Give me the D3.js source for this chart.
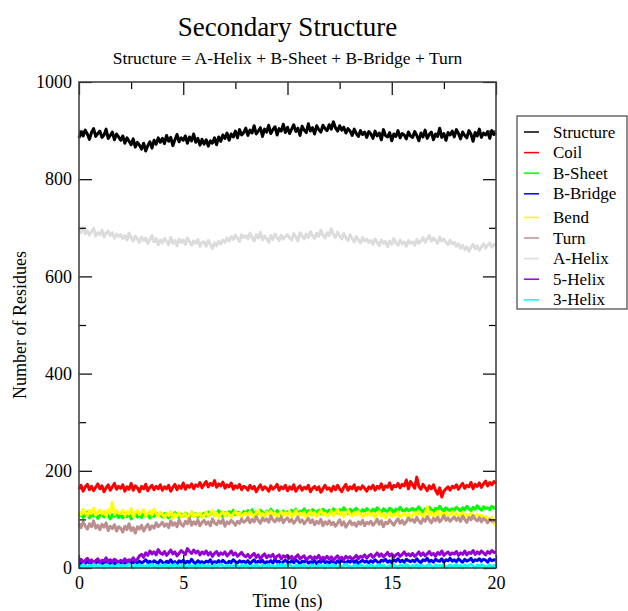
<!DOCTYPE html>
<html>
<head>
<meta charset="utf-8">
<script src="https://cdn.jsdelivr.net/npm/d3@7"></script>
<style>
  body { margin: 0; background: #fff; }
  text { font-family: "Liberation Serif", "Times New Roman", serif; fill: #000; }
</style>
</head>
<body>
<div id="chart"></div>
<script>
// time axis: one sample every 0.1 ns, 0..20 ns
const timeStep = 0.1;

const seriesNames = ["Structure", "Coil", "B-Sheet", "B-Bridge", "Bend", "Turn", "A-Helix", "5-Helix", "3-Helix"];
const seriesColors = ["#000000", "#ff0000", "#00ff00", "#0000ff", "#ffff00", "#bc8f8f", "#dcdcdc", "#9400d3", "#00ffff"];

const structure = [
  885,897,889,901,893,882,896,904,888,894,899,886,891,903,884,890,897,881,893,887,
  880,889,874,885,878,871,883,866,876,870,862,874,858,869,877,864,880,872,885,876,
  884,873,890,878,886,869,881,892,877,885,880,889,874,887,879,893,876,884,870,882,
  872,881,868,879,874,885,871,887,878,891,884,895,880,893,887,899,885,902,891,896,
  905,890,901,895,910,893,899,906,888,903,897,911,894,902,908,891,904,899,913,896,
  907,894,903,912,898,905,890,909,901,896,914,899,906,893,910,902,897,911,904,900,
  912,903,918,906,899,910,901,907,895,904,899,890,903,894,888,900,892,897,886,898,
  893,884,899,889,895,881,902,890,887,896,879,893,888,900,885,894,891,883,897,889,
  886,898,890,879,895,887,901,884,892,897,881,893,888,905,886,894,880,896,891,899,
  887,902,894,883,897,890,885,900,893,878,896,889,903,886,895,891,898,884,900,892,
  895];

const coil = [
  162,170,158,167,172,161,168,159,166,173,163,169,157,165,171,160,167,174,162,168,
  164,171,158,167,162,174,160,169,165,157,168,163,172,159,166,170,161,168,163,171,
  160,167,163,170,158,166,172,161,169,164,175,162,170,166,173,163,171,168,176,165,
  172,178,167,174,170,180,166,173,169,177,164,171,167,175,162,169,165,172,161,168,
  166,160,170,163,168,157,165,171,161,167,164,158,169,162,166,172,160,167,163,170,
  159,167,162,171,158,165,169,160,166,163,170,157,164,168,161,167,156,163,170,162,
  165,158,168,161,170,163,157,166,172,160,167,163,171,159,166,162,169,164,158,167,
  163,170,160,168,164,173,161,169,166,175,162,170,167,174,165,172,169,181,163,178,
  171,164,187,168,162,172,166,159,169,163,171,160,152,165,146,158,163,167,160,168,
  165,171,162,169,174,164,170,167,176,163,172,168,175,166,173,179,169,176,171,178,
  174];

const bSheet = [
  106,112,104,109,115,103,110,107,113,102,108,111,105,114,107,101,110,106,112,104,
  109,103,111,106,113,101,108,112,105,110,104,115,107,111,103,109,106,113,108,110,
  105,112,108,103,110,106,114,109,104,111,107,113,110,106,115,108,112,105,111,109,
  113,107,115,110,117,108,112,118,111,106,114,109,116,112,119,110,115,113,108,116,
  111,118,113,120,109,116,112,119,114,110,117,113,121,115,111,118,114,109,117,113,
  116,112,119,114,121,110,117,115,122,113,118,111,120,116,114,119,112,121,117,115,
  119,114,122,117,113,120,116,124,118,112,121,115,119,123,117,114,120,116,122,118,
  115,121,117,124,119,113,122,118,116,123,120,114,121,117,125,119,116,122,118,120,
  123,117,121,126,119,115,122,118,125,120,116,123,119,127,121,117,124,120,118,122,
  119,125,121,117,124,120,127,122,118,125,121,128,123,119,126,122,124,120,127,123,
  125];

const bBridge = [
  11,8,13,9,14,10,7,12,9,15,11,8,13,10,16,9,12,8,14,11,
  9,13,10,15,8,12,11,16,9,14,10,13,17,11,14,9,15,12,10,16,
  12,9,14,11,17,10,13,8,15,12,16,10,14,11,18,12,9,15,11,13,
  10,14,12,17,9,13,11,15,10,16,12,9,14,11,17,13,10,15,12,14,
  11,15,9,13,17,10,14,12,16,9,13,11,15,10,18,12,14,9,13,16,
  12,10,15,11,17,13,9,14,12,16,10,13,11,15,9,14,12,17,11,13,
  10,14,12,9,15,11,16,13,10,14,12,17,11,15,9,13,16,12,14,11,
  15,12,17,13,10,16,14,18,12,15,11,17,14,19,13,16,12,18,15,13,
  16,13,19,14,11,17,15,20,13,16,12,18,15,14,19,12,17,15,20,14,
  17,13,19,15,12,18,14,16,20,13,17,15,19,14,18,16,12,19,15,17,
  16];

const bend = [
  116,110,121,113,108,118,112,123,109,115,119,111,117,107,120,114,135,110,118,113,
  112,119,108,116,111,122,106,114,118,110,115,120,107,113,117,109,121,112,106,115,
  110,104,113,108,116,102,111,107,114,105,109,112,103,110,115,106,111,108,113,104,
  109,115,106,112,118,108,113,104,111,116,107,114,110,105,112,117,109,113,106,111,
  113,107,116,110,105,114,119,108,112,106,115,110,117,109,113,104,111,116,108,114,
  110,116,105,112,118,107,113,109,115,104,111,117,108,114,106,112,119,109,113,107,
  111,117,108,114,120,109,115,106,113,118,110,107,114,109,116,111,105,112,108,115,
  109,113,104,111,116,107,112,103,110,114,106,111,108,115,105,109,113,107,112,104,
  110,114,108,116,111,105,113,126,109,115,106,112,117,108,113,110,114,107,111,116,
  109,113,106,111,115,104,110,107,113,102,108,111,105,109,100,106,103,98,104,92,
  88];

const turn = [
  92,83,95,86,80,91,85,97,82,88,79,90,84,93,77,86,81,89,76,85,
  82,74,86,79,91,77,83,72,85,80,88,76,84,90,79,87,82,93,85,89,
  94,86,91,83,97,88,93,85,99,90,86,96,91,102,88,95,90,99,87,94,
  98,90,95,87,101,93,89,97,92,100,86,95,91,98,94,88,96,92,101,94,
  97,104,93,100,95,106,98,92,103,97,101,94,107,99,95,102,97,105,93,100,
  103,95,100,92,98,105,94,99,91,97,102,93,99,89,96,92,100,87,95,90,
  97,89,94,86,92,99,88,95,84,91,97,89,93,86,95,90,98,87,94,91,
  96,88,93,100,90,97,85,94,91,99,93,88,96,101,92,98,90,95,103,97,
  100,94,104,97,92,101,96,106,99,93,102,97,105,95,100,108,98,103,96,101,
  105,98,103,96,107,100,94,104,99,108,101,97,104,95,102,99,93,100,96,98,
  95];

const aHelix = [
  697,690,701,688,694,685,692,699,683,690,686,695,681,689,693,684,690,679,687,682,
  686,678,684,675,689,680,673,683,677,670,681,674,679,668,676,684,671,678,665,675,
  669,678,672,665,680,668,674,663,677,670,675,666,679,671,664,673,668,676,662,670,
  671,662,674,666,658,669,663,672,667,675,670,679,673,682,676,685,678,672,686,680,
  684,677,689,680,673,686,679,691,675,683,678,670,684,676,687,680,674,685,677,682,
  686,679,675,688,681,673,690,683,677,687,680,692,684,678,689,682,695,685,679,690,
  684,698,686,680,691,683,677,688,680,674,686,678,671,682,675,669,680,673,677,670,
  674,666,677,670,663,675,668,672,661,673,666,678,669,664,675,667,671,662,674,668,
  671,664,676,668,673,680,670,677,684,672,679,674,668,681,673,677,670,665,674,667,
  670,662,667,658,664,655,661,652,660,666,657,663,654,661,667,658,664,669,660,666,
  663];

const helix5 = [
  14,18,11,16,20,13,17,10,15,19,12,16,14,21,11,17,13,18,15,12,
  16,13,19,12,17,15,21,14,18,25,28,22,31,26,35,29,33,27,38,31,
  28,34,26,31,37,29,33,25,30,36,32,28,40,34,30,37,31,35,27,33,
  29,35,27,32,24,30,34,26,31,28,33,25,29,35,27,31,24,28,32,26,
  23,28,21,26,30,22,27,19,25,29,21,26,23,28,20,24,27,19,25,22,
  26,20,24,18,23,27,19,22,25,17,21,24,18,23,20,26,17,22,19,24,
  18,23,16,21,25,19,22,17,24,20,23,18,21,26,19,24,22,27,20,25,
  28,22,26,31,24,29,23,27,32,25,29,23,27,30,24,28,33,26,29,25,
  30,24,28,33,26,31,25,29,34,27,30,24,32,28,35,26,30,33,27,31,
  29,34,26,31,28,35,27,32,30,36,28,33,29,35,31,27,34,30,36,32,
  33];

const helix3 = [
  5,3,7,4,0,6,3,8,5,2,6,4,0,7,5,3,6,1,4,7,
  4,6,2,5,8,3,0,6,4,7,3,5,1,6,4,8,2,5,0,6,
  3,7,5,0,6,4,8,2,5,3,7,0,4,6,3,5,0,7,4,6,
  5,2,6,4,0,7,3,5,8,4,0,6,3,5,2,7,4,0,6,3,
  6,4,0,5,3,7,4,0,6,5,2,7,3,5,0,6,4,8,3,5,
  4,7,3,0,6,4,5,2,7,3,0,5,6,4,1,7,3,5,0,6,
  5,3,7,4,0,6,2,5,8,4,3,0,6,5,2,7,4,0,5,3,
  6,4,0,5,7,3,6,2,0,5,4,7,3,0,6,5,2,7,4,0,
  5,3,7,0,6,4,2,5,8,3,0,6,4,5,2,7,0,4,6,3,
  4,7,2,5,0,6,3,5,8,4,0,6,3,7,5,0,4,6,2,5,
  4];

const seriesValues = [structure, coil, bSheet, bBridge, bend, turn, aHelix, helix5, helix3];

const xMajorTicks = [0, 5, 10, 15, 20];
const xMinorTicks = [2.5, 7.5, 12.5, 17.5];
const yMajorTicks = [0, 200, 400, 600, 800, 1000];
const yMinorTicks = [100, 300, 500, 700, 900];

const W = 628, H = 611;
const margin = {left: 79, top: 82, right: 132, bottom: 43};
const width = W - margin.left - margin.right;
const height = H - margin.top - margin.bottom;

const svg = d3.select("#chart").append("svg")
  .attr("width", W)
  .attr("height", H);

const g = svg.append("g").attr("transform", `translate(${margin.left},${margin.top})`);

const x = d3.scaleLinear().domain([0, 20]).range([0, width]);
const y = d3.scaleLinear().domain([0, 1000]).range([height, 0]);

// lines, drawn in set order
const line = d3.line()
  .x((d, i) => x(i * timeStep))
  .y(d => y(d));

g.append("g")
  .selectAll("path")
  .data(seriesValues)
  .enter().append("path")
  .attr("d", line)
  .attr("fill", "none")
  .attr("stroke", (d, i) => seriesColors[i])
  .attr("stroke-width", 3)
  .attr("stroke-linejoin", "round");

// axes: ticks pointing inward on all four sides
function styleAxis(sel) {
  sel.select(".domain").remove();
  sel.selectAll(".tick line").attr("stroke", "#000").attr("stroke-width", 1.2);
  sel.selectAll("text").attr("font-size", 18).attr("fill", "#000")
    .style("font-family", "'Liberation Serif', serif");
}

g.append("g").attr("transform", `translate(0,${height})`)
  .call(d3.axisBottom(x).tickValues(xMajorTicks).tickSize(-13).tickPadding(8).tickFormat(d3.format("d")))
  .call(styleAxis);
g.append("g").attr("transform", `translate(0,${height})`)
  .call(d3.axisBottom(x).tickValues(xMinorTicks).tickSize(-7).tickFormat(""))
  .call(styleAxis);
g.append("g")
  .call(d3.axisTop(x).tickValues(xMajorTicks).tickSize(-13).tickFormat(""))
  .call(styleAxis);
g.append("g")
  .call(d3.axisTop(x).tickValues(xMinorTicks).tickSize(-7).tickFormat(""))
  .call(styleAxis);

g.append("g")
  .call(d3.axisLeft(y).tickValues(yMajorTicks).tickSize(-13).tickPadding(7).tickFormat(d3.format("d")))
  .call(styleAxis);
g.append("g")
  .call(d3.axisLeft(y).tickValues(yMinorTicks).tickSize(-7).tickFormat(""))
  .call(styleAxis);
g.append("g").attr("transform", `translate(${width},0)`)
  .call(d3.axisRight(y).tickValues(yMajorTicks).tickSize(-13).tickFormat(""))
  .call(styleAxis);
g.append("g").attr("transform", `translate(${width},0)`)
  .call(d3.axisRight(y).tickValues(yMinorTicks).tickSize(-7).tickFormat(""))
  .call(styleAxis);

// frame
g.append("rect")
  .attr("width", width)
  .attr("height", height)
  .attr("fill", "none")
  .attr("stroke", "#444")
  .attr("stroke-width", 1.6);

// titles
svg.append("text")
  .attr("x", margin.left + width / 2)
  .attr("y", 36)
  .attr("text-anchor", "middle")
  .attr("font-size", 27)
  .text("Secondary Structure");

svg.append("text")
  .attr("x", margin.left + width / 2)
  .attr("y", 64)
  .attr("text-anchor", "middle")
  .attr("font-size", 17.5)
  .text("Structure = A-Helix + B-Sheet + B-Bridge + Turn");

svg.append("text")
  .attr("x", margin.left + width / 2)
  .attr("y", 607)
  .attr("text-anchor", "middle")
  .attr("font-size", 18)
  .text("Time (ns)");

svg.append("text")
  .attr("transform", `translate(26,${margin.top + height / 2}) rotate(-90)`)
  .attr("text-anchor", "middle")
  .attr("font-size", 18)
  .text("Number of Residues");

// legend
const legend = svg.append("g").attr("transform", "translate(517,116)");
legend.append("rect")
  .attr("width", 110)
  .attr("height", 193)
  .attr("fill", "#fff")
  .attr("stroke", "#444")
  .attr("stroke-width", 1.2);

const entry = legend.selectAll("g.entry")
  .data(seriesNames)
  .enter().append("g")
  .attr("class", "entry")
  .attr("transform", (d, i) => `translate(0,${16 + i * 20.6 + (i >= 4 ? 3 : 0)})`);

entry.append("line")
  .attr("x1", 7).attr("x2", 22)
  .attr("stroke", (d, i) => seriesColors[i])
  .attr("stroke-width", 1.5);

entry.append("text")
  .attr("x", 36)
  .attr("dy", "0.33em")
  .attr("font-size", 17)
  .text(d => d);
</script>
</body>
</html>
